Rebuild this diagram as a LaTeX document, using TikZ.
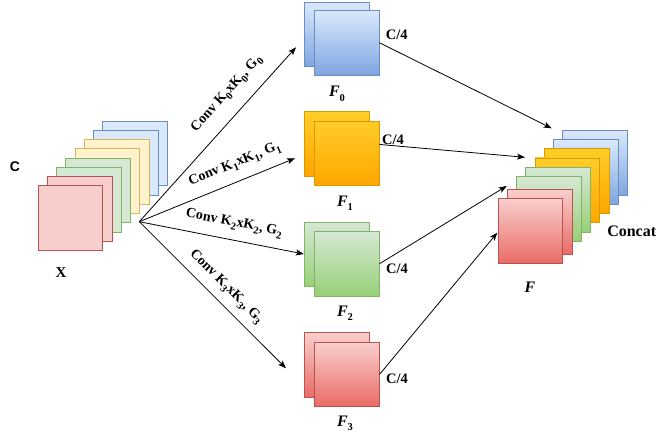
\documentclass[tikz,border=0pt]{standalone}
\usepackage{fontspec}
\setmainfont{Liberation Serif}
\newfontfamily\arialfont{Liberation Sans}
\usetikzlibrary{arrows.meta}
\definecolor{bluef}{HTML}{DAE8FC}\definecolor{blued}{HTML}{6C8EBF}\definecolor{blueg}{HTML}{7EA6E0}
\definecolor{yelf}{HTML}{FFF2CC}\definecolor{yeld}{HTML}{D6B656}
\definecolor{grnf}{HTML}{D5E8D4}\definecolor{grnd}{HTML}{82B366}\definecolor{grng}{HTML}{97D077}
\definecolor{redf}{HTML}{F8CECC}\definecolor{redd}{HTML}{B85450}\definecolor{redg}{HTML}{EA6B66}
\definecolor{orgf}{HTML}{FFCD28}\definecolor{orgg}{HTML}{FFA500}\definecolor{orgd}{HTML}{D79B00}
\tikzset{
  sq/.style={minimum width=64.7pt, minimum height=64.7pt, inner sep=0pt, anchor=north west, line width=0.8pt},
  xblue/.style={sq, fill=bluef, draw=blued},
  xyel/.style={sq, fill=yelf, draw=yeld},
  xgrn/.style={sq, fill=grnf, draw=grnd},
  xred/.style={sq, fill=redf, draw=redd},
  gblue/.style={sq, top color=bluef, bottom color=blueg, draw=blued},
  gorg/.style={sq, top color=orgf, bottom color=orgg, draw=orgd},
  ggrn/.style={sq, top color=grnf, bottom color=grng, draw=grnd},
  gred/.style={sq, top color=redf, bottom color=redg, draw=redd},
  arr/.style={-{Stealth[length=8pt,width=6pt,inset=2pt]}, line width=0.8pt, black},
  lbl/.style={font=\bfseries\fontsize{14}{16}\selectfont, inner sep=1pt},
  clbl/.style={font=\bfseries\fontsize{14.5}{16}\selectfont, inner sep=1pt},
  flbl/.style={font=\bfseries\fontsize{16}{18}\selectfont, inner sep=1pt},
}
\newcommand{\mysb}[1]{\raisebox{-0.28em}{\fontsize{10.5}{12}\selectfont #1}}
\newcommand{\Fl}[1]{\textit{F}\mysb{#1}}
\begin{document}
\begin{tikzpicture}[x=1pt,y=-1pt]
\useasboundingbox (0,0) rectangle (665,436);
% X stack
\node[xblue] (x7) at (102.3,120.7) {};
\node[xblue] (x6) at (93.0,130.0) {};
\node[xyel]  (x5) at (83.8,139.2) {};
\node[xyel]  (x4) at (74.6,148.4) {};
\node[xgrn]  (x3) at (65.4,157.6) {};
\node[xgrn]  (x2) at (56.2,166.8) {};
\node[xred]  (x1) at (47.0,176.0) {};
\node[xred]  (x0) at (37.7,185.0) {};
\node[font=\arialfont\bfseries\fontsize{14}{16}\selectfont] (clab) at (15,167) {C};
\node[font=\bfseries\fontsize{15}{17}\selectfont] (xlab) at (61,273) {X};
% F blocks
\node[gblue] (F0b) at (304.3,1.7) {};
\node[gblue] (F0)  at (314.0,10.0) {};
\node[gorg]  (F1b) at (304.3,111.0) {};
\node[gorg]  (F1)  at (314.0,120.7) {};
\node[ggrn]  (F2b) at (304.3,221.7) {};
\node[ggrn]  (F2)  at (314.0,231.0) {};
\node[gred]  (F3b) at (304.3,332.3) {};
\node[gred]  (F3)  at (314.0,341.7) {};
\node[flbl] (f0l) at (337,94) {\Fl{0}};
\node[flbl] (f1l) at (345,203.5) {\Fl{1}};
\node[flbl] (f2l) at (345,313.5) {\Fl{2}};
\node[flbl] (f3l) at (345,423.5) {\Fl{3}};
\node[clbl] (c0) at (396.7,34.5) {C/4};
\node[clbl] (c1) at (393,139.5) {C/4};
\node[clbl] (c2) at (397,268.5) {C/4};
\node[clbl] (c3) at (397,378.5) {C/4};
% Concat stack
\node[gblue] (k7) at (562.3,130.0) {};
\node[gblue] (k6) at (553.1,139.2) {};
\node[gorg]  (k5) at (543.8,148.4) {};
\node[gorg]  (k4) at (534.6,157.6) {};
\node[ggrn]  (k3) at (525.4,166.8) {};
\node[ggrn]  (k2) at (516.2,176.0) {};
\node[gred]  (k1) at (507.0,189.0) {};
\node[gred]  (k0) at (497.7,198.3) {};
\node[font=\bfseries\fontsize{16}{18}\selectfont] (concat) at (631.7,231) {Concat};
\node[font=\bfseries\fontsize{16}{18}\selectfont] (flab) at (530,287) {\textit{F}};
% connectors
\coordinate (src) at (139.3,221.7);
\coordinate (t0) at (296,47.3);
\coordinate (t1) at (295,158.3);
\coordinate (t2) at (303.8,254);
\coordinate (t3) at (286,368.3);
\draw[arr] (src) -- (t0);
\draw[arr] (src) -- (t1);
\draw[arr] (src) -- (t2);
\draw[arr] (src) -- (t3);
\node[lbl, rotate=48] (l0) at (227,94) {Conv K\mysb{0}xK\mysb{0}, G\mysb{0}};
\node[lbl, rotate=22] (l1) at (235,164.5) {Conv K\mysb{1}xK\mysb{1}, G\mysb{1}};
\node[lbl, rotate=-11] (l2) at (234,223.5) {Conv K\mysb{2}xK\mysb{2}, G\mysb{2}};
\node[lbl, rotate=-45] (l3) at (226,287) {Conv K\mysb{3}xK\mysb{3}, G\mysb{3}};
\coordinate (e0) at (551.7,128.3);
\coordinate (e1) at (525,157.3);
\coordinate (e2) at (506.7,186);
\coordinate (e3) at (497.3,232.7);
\draw[arr] (F0.east) -- (e0);
\draw[arr] ([yshift=9pt]F1.east) -- (e1);
\draw[arr] (F2.east) -- (e2);
\draw[arr] (F3.east) -- (e3);
\end{tikzpicture}
\end{document}
